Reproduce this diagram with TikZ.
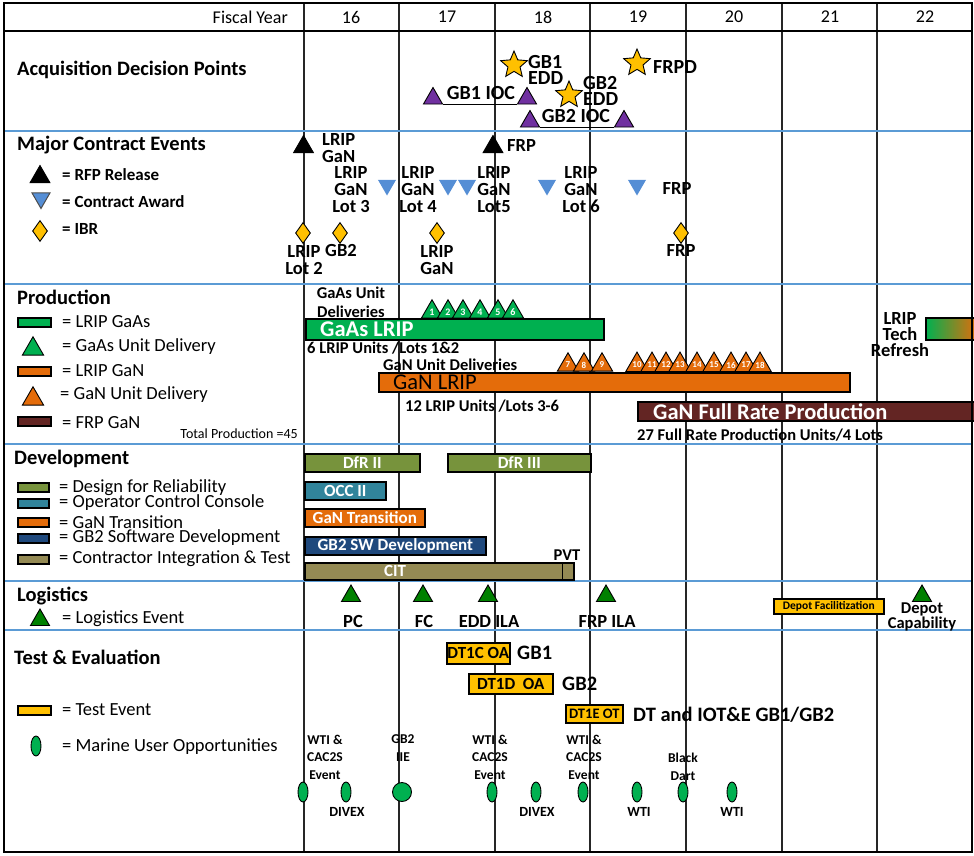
\documentclass[tikz,border=0pt]{standalone}
\usepackage{fontspec}
\setmainfont{Carlito}
\usetikzlibrary{shapes.geometric,positioning}

\definecolor{sepblue}{RGB}{91,155,213}
\definecolor{gaasgreen}{RGB}{0,176,80}
\definecolor{ganorange}{RGB}{228,108,10}
\definecolor{frpbrown}{RGB}{99,37,35}
\definecolor{dfrolive}{RGB}{119,147,60}
\definecolor{occteal}{RGB}{49,132,155}
\definecolor{swnavy}{RGB}{31,73,125}
\definecolor{citkhaki}{RGB}{148,138,84}
\definecolor{testgold}{RGB}{255,192,0}
\definecolor{iocpurple}{RGB}{112,48,160}
\definecolor{awardblue}{RGB}{85,142,213}
\definecolor{logigreen}{RGB}{0,128,0}

\newcommand{\fsz}[2]{\fontsize{#1}{#2}\selectfont}

\tikzset{
  yearline/.style={line width=2.2pt, black!85},
  sepline/.style={line width=1.4pt, sepblue},
  yeartext/.style={font=\fsz{18}{20}, inner sep=0},
  sectitle/.style={font=\fsz{20.5}{22}\bfseries, anchor=west, inner sep=0},
  legtext/.style={font=\fsz{18.5}{20}, anchor=west, inner sep=0},
  keytext/.style={font=\fsz{17}{19}\bfseries, anchor=west, inner sep=0},
  evtext/.style={font=\fsz{18.5}{17}\bfseries, align=center, inner sep=0},
  adptext/.style={font=\fsz{20}{16}\bfseries, align=left, anchor=west, inner sep=0},
  unittext/.style={font=\fsz{16.5}{19}\bfseries, inner sep=0},
  minitext/.style={font=\fsz{13.5}{17.5}\bfseries, align=center, inner sep=0},
  testtext/.style={font=\fsz{20.5}{22}\bfseries, anchor=west, inner sep=0},
  bar/.style={draw=black, line width=1.6pt, inner sep=0, anchor=north west},
  bartext/.style={font=\fsz{17}{19}\bfseries, text=white},
  bigtext/.style={font=\fsz{22.5}{24}\bfseries, inner sep=0},
  tri/.style={regular polygon, regular polygon sides=3, inner sep=0, draw=black, line width=0.9pt, minimum size=#1},
  rfptri/.style={tri=23, fill=black},
  awardtri/.style={tri=21, shape border rotate=180, draw=none, fill=awardblue},
  ioctri/.style={tri=22, fill=iocpurple},
  gaastri/.style={tri=24.5, fill=gaasgreen, font=\fsz{10}{10}\bfseries, text=white},
  gantri/.style={tri=24.5, fill=ganorange, font=\fsz{9}{9}\bfseries, text=white},
  logitri/.style={tri=22, fill=logigreen},
  eddstar/.style={star, star points=5, star point ratio=2.2, draw=black, line width=0.9pt, fill=testgold, inner sep=0, minimum size=28},
  ibr/.style={diamond, draw=black, line width=0.9pt, fill=testgold, inner sep=0, minimum width=15, minimum height=21},
  muo/.style={ellipse, draw=black, line width=0.9pt, fill=gaasgreen, inner sep=0, minimum width=10, minimum height=20},
}

\begin{document}
\begin{tikzpicture}[x=1pt, y=-1pt]
    \useasboundingbox (0,0) rectangle (974,855);

    % Grid
    \foreach \gx in {304,399,495,590,686,782,877}
        \draw[yearline] (\gx,3) -- (\gx,852);
    \draw[line width=2pt] (4,31) -- (972,31);
    \foreach \gy in {131,284,444,581,630}
        \draw[sepline] (4,\gy) -- (972,\gy);

    % Fiscal years
    \node[yeartext, anchor=east] (fy) at (288,17) {Fiscal Year};
    \node[yeartext] (y16) at (351,17) {16};
    \node[yeartext] (y17) at (447,17) {17};
    \node[yeartext] (y18) at (543,17) {18};
    \node[yeartext] (y19) at (638,17) {19};
    \node[yeartext] (y20) at (734,17) {20};
    \node[yeartext] (y21) at (830,17) {21};
    \node[yeartext] (y22) at (925,17) {22};

    % Acquisition decision points
    \node[sectitle] (adp) at (17,70) {Acquisition Decision Points};
    \node[eddstar] (gb1edd) at (514,65) {};
    \node[adptext] (gb1eddlbl) at (528,70) {GB1\\EDD};
    \node[eddstar] (gb2edd) at (569,95) {};
    \node[adptext] (gb2eddlbl) at (583,91) {GB2\\EDD};
    \node[eddstar] (frpd) at (637,63) {};
    \node[adptext] (frpdlbl) at (653,67) {FRPD};
    \node[ioctri] (gb1iocA) at (433,98.5) {};
    \node[ioctri] (gb1iocB) at (527,98.5) {};
    \draw[line width=1.3pt] (gb1iocA.corner 3) -- (gb1iocB.corner 2);
    \node[adptext, anchor=center] (gb1ioc) at (481,93) {GB1 IOC};
    \node[ioctri] (gb2iocA) at (530,121.5) {};
    \node[ioctri] (gb2iocB) at (624,121.5) {};
    \draw[line width=1.3pt] (gb2iocA.corner 3) -- (gb2iocB.corner 2);
    \node[adptext, anchor=center] (gb2ioc) at (576,116) {GB2 IOC};

    % Major contract events
    \node[sectitle] (mce) at (17,145) {Major Contract Events};
    \node[rfptri] (krfp) at (40,177) {};
    \node[keytext] at (62,175) {= RFP Release};
    \node[awardtri, draw=black!70, line width=1pt] (kaward) at (41,198) {};
    \node[keytext] at (62,202) {= Contract Award};
    \node[ibr] (kibr) at (40,231) {};
    \node[keytext] at (62,229) {= IBR};

    \node[rfptri] (rfplrip) at (303.5,147) {};
    \node[evtext, align=left, anchor=west] (rfplriplbl) at (322,148.5) {LRIP\\GaN};
    \node[rfptri] (rfpfrp) at (493,147) {};
    \node[evtext, anchor=west] (rfpfrplbl) at (507,145) {FRP};
    \node[evtext] (lot3) at (351,190) {LRIP\\GaN\\Lot 3};
    \node[awardtri] (aw3) at (387,185) {};
    \node[evtext] (lot4) at (418,190) {LRIP\\GaN\\Lot 4};
    \node[awardtri] (aw4a) at (448,185) {};
    \node[awardtri] (aw4b) at (467,185) {};
    \node[evtext] (lot5) at (494,190) {LRIP\\GaN\\Lot5};
    \node[awardtri] (aw5) at (547,185) {};
    \node[evtext] (lot6) at (581,190) {LRIP\\GaN\\Lot 6};
    \node[awardtri] (aw6) at (637,185) {};
    \node[evtext] (frpaw) at (677,188) {FRP};

    \node[ibr] (ibrlot2) at (303,233) {};
    \node[evtext] at (304,260) {LRIP\\Lot 2};
    \node[ibr] (ibrgb2) at (340,233) {};
    \node[evtext] at (341,250) {GB2};
    \node[ibr] (ibrgan) at (437,233) {};
    \node[evtext] at (437,260.5) {LRIP\\GaN};
    \node[ibr] (ibrfrp) at (681,233) {};
    \node[evtext] at (681,250) {FRP};

    % Production
    \node[sectitle] (prod) at (17,297) {Production};
    \node[bar, fill=gaasgreen, minimum width=33, minimum height=9] (kgaas) at (17,317) {};
    \node[legtext] at (62,322) {= LRIP GaAs};
    \node[gaastri] (kgaastri) at (33,349) {};
    \node[legtext] at (62,347) {= GaAs Unit Delivery};
    \node[bar, fill=ganorange, minimum width=33, minimum height=9] (kgan) at (17,366) {};
    \node[legtext] at (62,371) {= LRIP GaN};
    \node[gantri] (kgantri) at (33,399) {};
    \node[legtext] at (60,395) {= GaN Unit Delivery};
    \node[bar, fill=frpbrown, minimum width=33, minimum height=9] (kfrp) at (17,416) {};
    \node[legtext] at (62,423) {= FRP GaN};
    \node[font=\fsz{14}{16}, anchor=east, inner sep=0] (total) at (298,434) {Total Production =45};

    \node[unittext, align=center] (gaasdel) at (351,302.5) {GaAs Unit\\Deliveries};
    \node[gaastri] (ga1) at (432,312) {1};
    \node[gaastri] (ga2) at (448,312) {2};
    \node[gaastri] (ga3) at (463,312) {3};
    \node[gaastri] (ga4) at (480,312) {4};
    \node[gaastri] (ga5) at (498,312) {5};
    \node[gaastri] (ga6) at (513,312) {6};
    \node[bar, fill=gaasgreen, minimum width=298, minimum height=21] (gaaslrip) at (305,318) {};
    \node[bigtext, text=white, right=15pt of gaaslrip.west] (gaaslbl) {GaAs LRIP};
    \node[unittext, anchor=west] (gaasunits) at (307,348) {6 LRIP Units /Lots 1\&2};

    \node[unittext, anchor=west] (gandel) at (383,365) {GaN Unit Deliveries};
    \node[gantri] (gn7) at (568,365) {7};
    \node[gantri] (gn8) at (584,365) {8};
    \node[gantri] (gn9) at (602,365) {9};
    \node[gantri] (gn10) at (637,365) {10};
    \node[gantri] (gn11) at (652,365) {11};
    \node[gantri] (gn12) at (666,365) {12};
    \node[gantri] (gn13) at (680,365) {13};
    \node[gantri] (gn14) at (697,365) {14};
    \node[gantri] (gn15) at (714,365) {15};
    \node[gantri] (gn16) at (731,365) {16};
    \node[gantri] (gn17) at (746,365) {17};
    \node[gantri] (gn18) at (760,365) {18};
    \node[bar, fill=ganorange, minimum width=471, minimum height=19] (ganlrip) at (378,372) {};
    \node[bigtext, font=\fsz{22.5}{24}, right=15pt of ganlrip.west] (ganlbl) {GaN LRIP};
    \node[unittext, anchor=west] (ganunits) at (405,406) {12 LRIP Units /Lots 3-6};

    \node[bar, fill=frpbrown, minimum width=340, minimum height=19] (ganfrp) at (637,401) {};
    \node[bigtext, text=white, right=16pt of ganfrp.west] (frplbl) {GaN Full Rate Production};
    \node[unittext, anchor=west] (frpunits) at (637,435) {27 Full Rate Production Units/4 Lots};

    \node[evtext, font=\fsz{18.5}{16}\bfseries] (techlbl) at (900,335) {LRIP\\Tech\\Refresh};
    \node[bar, left color=gaasgreen, right color=ganorange, minimum width=52, minimum height=22] (techref) at (925,317) {};

    % Development
    \node[sectitle] (dev) at (14,459) {Development};
    \node[bar, fill=dfrolive, minimum width=31, minimum height=9] (kdfr) at (17,482) {};
    \node[legtext] at (59,488) {= Design for Reliability};
    \node[bar, fill=occteal, minimum width=31, minimum height=9] (kocc) at (17,498) {};
    \node[legtext] at (59,503) {= Operator Control Console};
    \node[bar, fill=ganorange, minimum width=31, minimum height=9] (kgantr) at (17,517) {};
    \node[legtext] at (59,522) {= GaN Transition};
    \node[bar, fill=swnavy, minimum width=31, minimum height=9] (ksw) at (17,533) {};
    \node[legtext] at (59,538) {= GB2 Software Development};
    \node[bar, fill=citkhaki, minimum width=31, minimum height=9] (kcit) at (17,554) {};
    \node[legtext] at (59,559) {= Contractor Integration \& Test};

    \node[bar, fill=dfrolive, bartext, minimum width=115, minimum height=18] (dfr2) at (304,453) {DfR II};
    \node[bar, fill=dfrolive, bartext, minimum width=143, minimum height=18] (dfr3) at (447,453) {DfR III};
    \node[bar, fill=occteal, bartext, minimum width=81, minimum height=18] (occ2) at (304,481) {OCC II};
    \node[bar, fill=ganorange, bartext, minimum width=120, minimum height=18] (gantr) at (304,508) {GaN Transition};
    \node[bar, fill=swnavy, bartext, minimum width=181, minimum height=18] (gb2sw) at (304,536) {GB2 SW Development};
    \node[bar, fill=citkhaki, minimum width=269, minimum height=17] (cit) at (304,562) {};
    \draw[line width=1.2pt] ([xshift=-12pt]cit.north east) -- ([xshift=-12pt]cit.south east);
    \node[bartext, inner sep=0] (citlbl) at (395,571) {CIT};
    \node[unittext] (pvt) at (567,555) {PVT};

    % Logistics
    \node[sectitle] (logi) at (17,596) {Logistics};
    \node[logitri] (klogi) at (40,620) {};
    \node[legtext] at (62,619) {= Logistics Event};
    \node[logitri] (pc) at (351,596) {};
    \node[evtext] at (353,621) {PC};
    \node[logitri] (fc) at (423,596) {};
    \node[evtext] at (424,621) {FC};
    \node[logitri] (eddila) at (488,596) {};
    \node[evtext] at (489,621) {EDD ILA};
    \node[logitri] (frpila) at (606,596) {};
    \node[evtext] at (607,621) {FRP ILA};
    \node[bar, fill=testgold, font=\fsz{11.5}{12}\bfseries, minimum width=110, minimum height=15] (depfac) at (773,598) {Depot Facilitization};
    \node[logitri] (depcap) at (922,596) {};
    \node[evtext, font=\fsz{16.5}{15}\bfseries] at (922,617) {Depot\\Capability};

    % Test and evaluation
    \node[sectitle] (te) at (14,657) {Test \& Evaluation};
    \node[bar, fill=testgold, minimum width=33, minimum height=9] (ktest) at (17,705) {};
    \node[legtext] at (62,710) {= Test Event};
    \node[muo] (kmuo) at (36,746) {};
    \node[legtext] at (62,747) {= Marine User Opportunities};

    \node[bar, fill=testgold, font=\fsz{17}{19}\bfseries, minimum width=63, minimum height=21] (dt1c) at (446,642) {DT1C OA};
    \node[testtext] at (517,653) {GB1};
    \node[bar, fill=testgold, font=\fsz{17}{19}\bfseries, minimum width=84, minimum height=20] (dt1d) at (468,673) {DT1D~~OA};
    \node[testtext] at (562,684) {GB2};
    \node[bar, fill=testgold, font=\fsz{14.5}{16}\bfseries, minimum width=57, minimum height=18] (dt1e) at (565,704) {DT1E OT};
    \node[testtext] at (633,715) {DT and IOT\&E GB1/GB2};

    \node[minitext] at (325,757) {WTI \&\\CAC2S\\Event};
    \node[minitext] at (403,748) {GB2\\IIE};
    \node[minitext] at (490,757) {WTI \&\\CAC2S\\Event};
    \node[minitext] at (584,757) {WTI \&\\CAC2S\\Event};
    \node[minitext] at (683,767) {Black\\Dart};
    \node[muo] (m1) at (303,792) {};
    \node[muo] (m2) at (346,792) {};
    \node[muo, minimum width=19, minimum height=19] (m3) at (402,792) {};
    \node[muo] (m4) at (492,792) {};
    \node[muo] (m5) at (536,792) {};
    \node[muo] (m6) at (583,792) {};
    \node[muo] (m7) at (637,792) {};
    \node[muo] (m8) at (683,792) {};
    \node[muo] (m9) at (732,792) {};
    \node[minitext, font=\fsz{14}{16}\bfseries] at (347,812) {DIVEX};
    \node[minitext, font=\fsz{14}{16}\bfseries] at (537,812) {DIVEX};
    \node[minitext, font=\fsz{14}{16}\bfseries] at (639,812) {WTI};
    \node[minitext, font=\fsz{14}{16}\bfseries] at (732,812) {WTI};

    % Frame
    \draw[line width=2pt] (4,3) rectangle (972,852);
\end{tikzpicture}
\end{document}
